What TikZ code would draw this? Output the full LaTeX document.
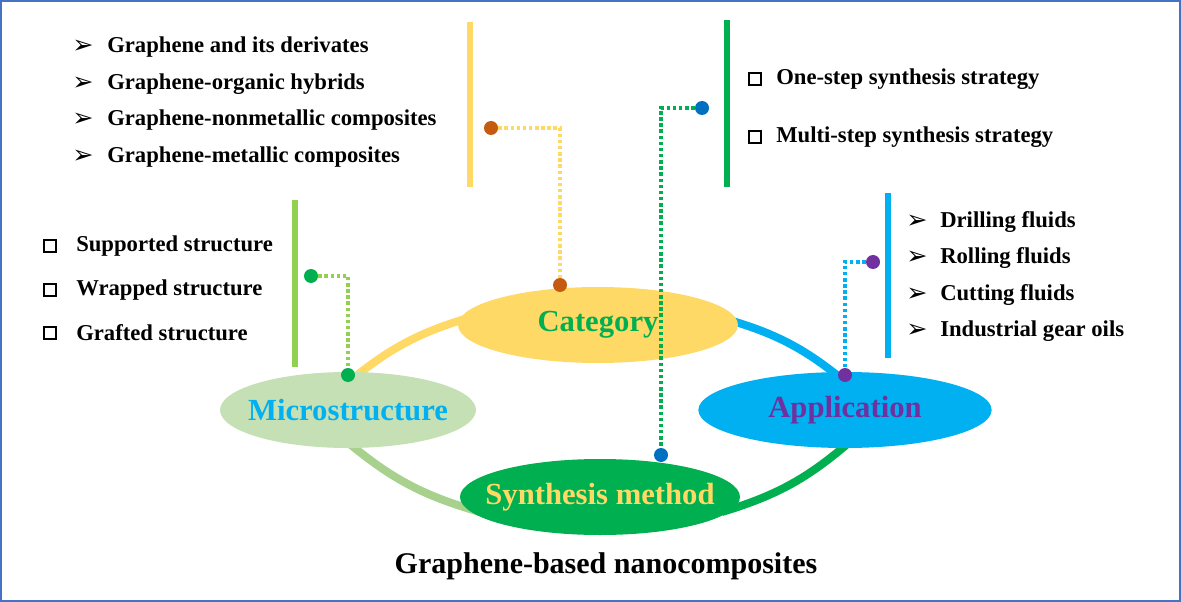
\documentclass[tikz,border=0pt]{standalone}
\usepackage{fontspec}
\setmainfont{Liberation Serif}
\newfontfamily\symf{DejaVu Sans}
\usetikzlibrary{shapes.geometric}
\definecolor{cyel}{HTML}{FFD966}
\definecolor{cgrn}{HTML}{00B050}
\definecolor{clgr}{HTML}{C5E0B4}
\definecolor{cmgr}{HTML}{A9D18E}
\definecolor{cbar}{HTML}{92D050}
\definecolor{cblu}{HTML}{00B0F0}
\definecolor{cpur}{HTML}{7030A0}
\definecolor{corg}{HTML}{C55A11}
\definecolor{cdb}{HTML}{0070C0}
\definecolor{cfr}{HTML}{4472C4}
\begin{document}
\begin{tikzpicture}[x=0.75pt,y=-0.75pt,
  ell/.style={ellipse,inner ysep=0pt,inner xsep=-30pt,font=\bfseries\fontsize{23}{26}\selectfont},
  item/.style={anchor=west,font=\bfseries\fontsize{17}{20}\selectfont,inner sep=0pt},
  arr/.style={anchor=center,font=\symf\fontsize{19}{20}\selectfont,inner sep=0pt},
  sq/.style={draw=black,line width=1.6pt,minimum size=9.5pt,inner sep=0pt},
  dot/.style={circle,inner sep=0pt,minimum size=10.5pt},
  dl/.style={line width=3pt,dash pattern=on 2.6pt off 2pt},
  arc/.style={line width=6pt},
  bar/.style={line width=4pt}]
\useasboundingbox (0,0) rectangle (1181,602);
\draw[cfr,line width=1.5pt] (1,1) rectangle (1180,601);
% arcs
\coordinate (m1) at (345,385); \coordinate (c1) at (475,316);
\coordinate (c2) at (722,318); \coordinate (a1) at (848,384);
\coordinate (m2) at (345,440); \coordinate (s1) at (480,512);
\coordinate (s2) at (722,512); \coordinate (a2) at (852,440);
\draw[arc,cyel] (m1) to[bend left=12] (c1);
\draw[arc,cblu] (c2) to[bend left=12] (a1);
\draw[arc,cmgr] (m2) to[bend right=12] (s1);
\draw[arc,cgrn] (s2) to[bend right=12] (a2);
% ellipses
\node[ell,fill=cyel,minimum width=210pt,minimum height=57pt,text=cgrn] (cat) at (598,325) {Category};
\node[ell,fill=clgr,minimum width=192pt,minimum height=57pt,text=cblu] (mic) at (348,410) {Microstructure};
\node[ell,fill=cblu,minimum width=220pt,minimum height=57pt,text=cpur] (app) at (845,410) {Application};
\node[ell,fill=cgrn,minimum width=210pt,minimum height=57pt,text=cyel] (syn) at (600,497) {Synthesis method};
% bars
\draw[bar,cyel] (470,22) -- (470,187);
\draw[bar,cbar] (295,200) -- (295,367);
\draw[bar,cblu] (888,193) -- (888,358);
\draw[bar,cgrn] (727,20) -- (727,187);
% dots and dotted leaders
\node[dot,fill=corg] (o1) at (491,128) {};
\node[dot,fill=corg] (o2) at (560,285) {};
\coordinate (ok) at (560,128);
\draw[dl,cyel] (o1) -- (ok) -- (o2);
\node[dot,fill=cgrn] (g1) at (311,276) {};
\node[dot,fill=cgrn] (g2) at (348,375) {};
\coordinate (gk) at (348,276);
\draw[dl,cbar] (g1) -- (gk) -- (g2);
\node[dot,fill=cpur] (p1) at (873,262) {};
\node[dot,fill=cpur] (p2) at (845,375) {};
\coordinate (pk) at (845,262);
\draw[dl,cblu] (p1) -- (pk) -- (p2);
\node[dot,fill=cdb] (b1) at (702,108) {};
\node[dot,fill=cdb] (b2) at (661,455) {};
\coordinate (bk) at (661,108);
\draw[dl,cgrn] (b1) -- (bk) -- (b2);
% top-left list
\foreach \y/\t [count=\i] in {47/Graphene and its derivates,84/Graphene-organic hybrids,120/Graphene-nonmetallic composites,157/Graphene-metallic composites}{
  \node[arr] (tla\i) at (83,\y) {➢};
  \node[item] (tlt\i) at (107,\y) {\t};}
% left list
\foreach \y/\t [count=\i] in {246/Supported structure,290/Wrapped structure,333/Grafted structure}{
  \node[sq] (lsq\i) at (50,\y) {};
  \node[item] (lt\i) at (76,\y) {\t};}
% right list
\foreach \y/\t [count=\i] in {222/Drilling fluids,258/Rolling fluids,295/Cutting fluids,331/Industrial gear oils}{
  \node[arr] (ra\i) at (917,\y) {➢};
  \node[item] (rt\i) at (940,\y) {\t};}
% top-right list
\foreach \y/\t [count=\i] in {79/One-step synthesis strategy,137/Multi-step synthesis strategy}{
  \node[sq] (trs\i) at (755,\y) {};
  \node[item] (trt\i) at (776,\y) {\t};}
\node[font=\bfseries\fontsize{22.5}{26}\selectfont] (title) at (606,566) {Graphene-based nanocomposites};
\end{tikzpicture}
\end{document}
